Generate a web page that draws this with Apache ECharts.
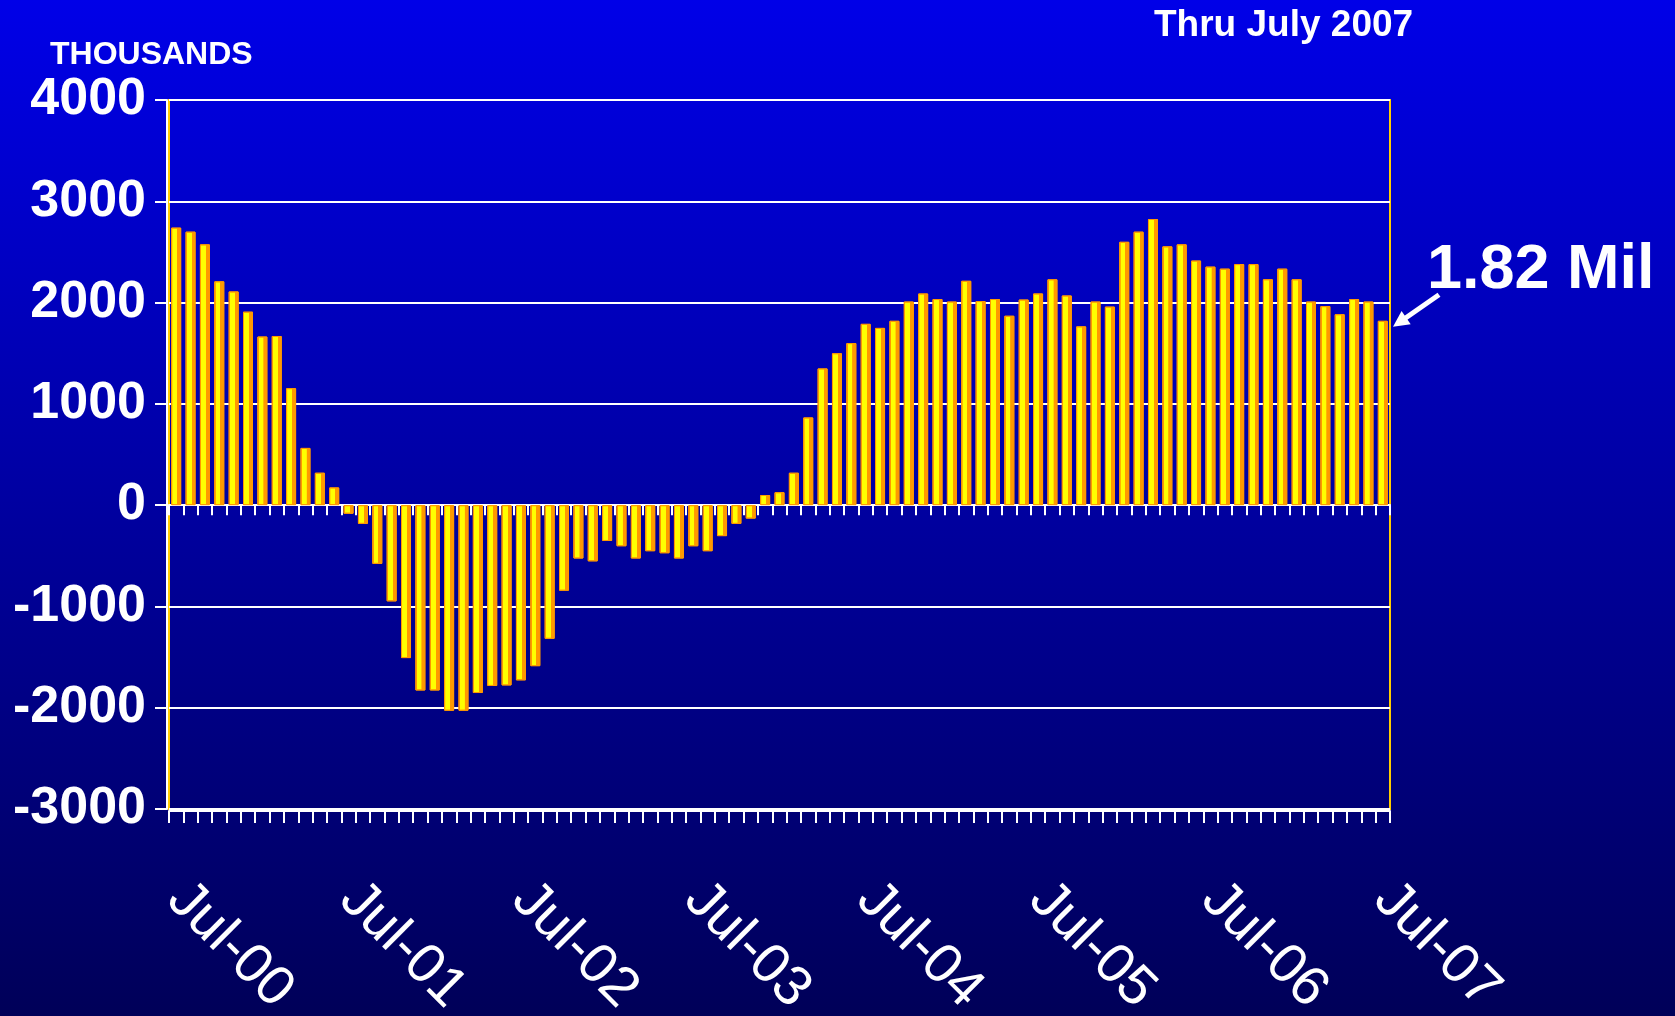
<!DOCTYPE html>
<html>
<head>
<meta charset="utf-8">
<title>Thru July 2007</title>
<script src="https://cdn.jsdelivr.net/npm/echarts@6/dist/echarts.min.js"></script>
<style>
  html, body { margin: 0; padding: 0; }
  #chart { width: 1675px; height: 1016px; }
</style>
</head>
<body>
<div id="chart"></div>
<script>
// month labels, Jul-00 .. Jul-07
const monthNames = ['Jan', 'Feb', 'Mar', 'Apr', 'May', 'Jun', 'Jul', 'Aug', 'Sep', 'Oct', 'Nov', 'Dec'];
const yearLabels = ['00', '01', '02', '03', '04', '05', '06', '07'];
const categories = [];
yearLabels.forEach((yy, yi) => {
  monthNames.forEach((m, mi) => {
    if ((yi === 0 && mi < 6) || (yi === 7 && mi > 6)) return;
    categories.push(m + '-' + yy);
  });
});

// thousands
const values = [
  2740, 2700, 2575, 2210, 2110, 1910, 1665, 1670, 1155, 565, 320, 175,
  -85, -185, -580, -950, -1510, -1830, -1830, -2030, -2030, -1855, -1785, -1780,
  -1730, -1590, -1320, -845, -527, -555, -354, -406, -527, -455, -475, -527,
  -406, -455, -306, -185, -133, 100, 128, 320, 866, 1350, 1500, 1600,
  1790, 1750, 1820, 2010, 2090, 2035, 2010, 2215, 2015, 2035, 1870, 2030,
  2090, 2230, 2070, 1765, 2010, 1960, 2600, 2700, 2825, 2555, 2575, 2415,
  2355, 2335, 2380, 2380, 2230, 2335, 2230, 2010, 1965, 1885, 2035, 2010,
  1820
];

const yMin = -3000;
const yMax = 4000;
const yStep = 1000;
const lastLabel = '1.82 Mil';

const textFont = "'Liberation Sans', Arial, sans-serif";

const chart = echarts.init(document.getElementById('chart'));

const barFill = new echarts.graphic.LinearGradient(0, 0, 1, 0, [
  { offset: 0, color: '#ff9900' },
  { offset: 0.12, color: '#ff9900' },
  { offset: 0.13, color: '#ffff00' },
  { offset: 0.6, color: '#ffff00' },
  { offset: 0.62, color: '#ff9900' },
  { offset: 1, color: '#ff9900' }
]);

const option = {
  animation: false,
  backgroundColor: new echarts.graphic.LinearGradient(0, 0, 0, 1, [
    { offset: 0, color: '#0000e8' },
    { offset: 1, color: '#000058' }
  ]),
  grid: {
    left: 169,
    right: 285,
    top: 100,
    bottom: 207,
    outerBoundsMode: 'none',
    containLabel: false,
    show: true,
    borderColor: '#ffcc00',
    borderWidth: 2,
    backgroundColor: 'transparent'
  },
  xAxis: [
    {
      // the line at zero
      type: 'category',
      data: categories,
      position: 'top',
      axisLine: { show: true, onZero: true, lineStyle: { color: '#ffffff', width: 2 } },
      axisTick: { show: true, inside: true, length: 10, interval: 0, lineStyle: { color: '#ffffff', width: 2 } },
      axisLabel: { show: false },
      splitLine: { show: false }
    },
    {
      type: 'category',
      data: categories,
      position: 'bottom',
      offset: 2,
      axisLine: { show: true, onZero: false, lineStyle: { color: '#ffffff', width: 2 } },
      axisTick: { show: true, length: 12, interval: 0, lineStyle: { color: '#ffffff', width: 2 } },
      axisLabel: {
        interval: 11,
        rotate: -45,
        margin: 80,
        color: '#ffffff',
        fontSize: 56,
        fontFamily: textFont
      },
      splitLine: { show: false }
    }
  ],
  yAxis: {
    type: 'value',
    min: yMin,
    max: yMax,
    interval: yStep,
    offset: 2,
    axisLine: { show: true, lineStyle: { color: '#ffffff', width: 2 } },
    axisTick: { show: true, length: 12, lineStyle: { color: '#ffffff', width: 2 } },
    axisLabel: {
      color: '#ffffff',
      fontSize: 52,
      fontWeight: 'bold',
      fontFamily: textFont,
      margin: 21,
      formatter: (v) => String(v)
    },
    splitLine: { lineStyle: { color: '#ffffff', width: 2 } }
  },
  series: [
    {
      type: 'bar',
      xAxisIndex: 1,
      data: values,
      barWidth: 10,
      itemStyle: { color: barFill, borderColor: '#ff9900', borderWidth: 1 }
    }
  ]
};

chart.setOption(option);

// texts and the arrow pointing at the last bar
const last = values.length - 1;
const pLast = chart.convertToPixel({ xAxisIndex: 1, yAxisIndex: 0 }, [last, values[last]]);
const pPrev = chart.convertToPixel({ xAxisIndex: 1, yAxisIndex: 0 }, [last - 1, values[last]]);
const tipX = pLast[0] + (pLast[0] - pPrev[0]) / 2 + 3;
const tipY = pLast[1] + 6;
const tailX = tipX + 46;
const tailY = tipY - 32;
const len = Math.hypot(tipX - tailX, tipY - tailY);
const ux = (tipX - tailX) / len;
const uy = (tipY - tailY) / len;
const headLen = 16;
const headHalf = 8;
const baseX = tipX - ux * headLen;
const baseY = tipY - uy * headLen;

chart.setOption({
  graphic: [
    {
      type: 'text',
      left: 50,
      top: 39,
      style: { text: 'THOUSANDS', fill: '#ffffff', font: 'bold 32px ' + textFont }
    },
    {
      type: 'text',
      left: 1154,
      top: 7,
      style: { text: 'Thru July 2007', fill: '#ffffff', font: 'bold 37px ' + textFont }
    },
    {
      type: 'text',
      left: 1427,
      top: 239,
      style: { text: lastLabel, fill: '#ffffff', font: 'bold 63px ' + textFont }
    },
    {
      type: 'line',
      shape: { x1: tailX, y1: tailY, x2: baseX + ux * 2, y2: baseY + uy * 2 },
      style: { stroke: '#ffffff', lineWidth: 5 }
    },
    {
      type: 'polygon',
      shape: {
        points: [
          [tipX, tipY],
          [baseX - uy * headHalf, baseY + ux * headHalf],
          [baseX + uy * headHalf, baseY - ux * headHalf]
        ]
      },
      style: { fill: '#ffffff' }
    }
  ]
});
</script>
</body>
</html>
